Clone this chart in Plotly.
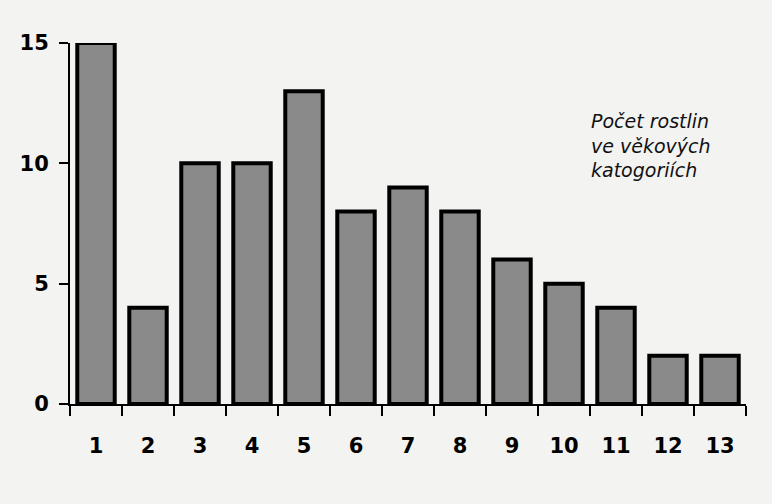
import plotly.graph_objects as go

categories = ["1", "2", "3", "4", "5", "6", "7", "8", "9", "10", "11", "12", "13"]
counts = [15, 4, 10, 10, 13, 8, 9, 8, 6, 5, 4, 2, 2]
y_ticks = [0, 5, 10, 15]
note = "Počet rostlin<br>ve věkových<br>katogoriích"

fig = go.Figure(go.Bar(
    x=categories, y=counts,
    marker=dict(color="#8a8a8a", line=dict(color="#000000", width=4)),
    width=0.72,
))

fig.update_layout(
    width=772, height=504,
    margin=dict(l=70, r=26, t=43, b=100),
    paper_bgcolor="#f3f3f1", plot_bgcolor="#f3f3f1",
    showlegend=False,
    font=dict(family="Liberation Sans, Arial", color="#000000"),
    annotations=[dict(
        text="<i>" + note + "</i>", xref="paper", yref="paper",
        x=0.768, y=0.82, xanchor="left", yanchor="top", align="left",
        showarrow=False, font=dict(size=19, family="DejaVu Sans", color="#111111"),
    )],
)
fig.update_xaxes(
    type="category", range=[-0.5, 12.5],
    showline=True, linecolor="#000000", linewidth=2,
    ticks="outside", tickson="boundaries", ticklen=10, tickwidth=2, tickcolor="#000000",
    tickfont=dict(size=21, family="DejaVu Sans", weight="bold"),
    ticklabelstandoff=22, showgrid=False, zeroline=False,
)
fig.update_yaxes(
    range=[0, 15], tickvals=y_ticks, ticktext=[str(v) for v in y_ticks],
    showline=True, linecolor="#000000", linewidth=2,
    ticks="outside", ticklen=9, tickwidth=2, tickcolor="#000000",
    tickfont=dict(size=21, family="DejaVu Sans", weight="bold"),
    ticklabelstandoff=6, showgrid=False, zeroline=False,
)

fig.write_html(
    "out.html",
    config={"displayModeBar": False},
    post_script="document.body.style.margin='0';document.body.style.background='#f3f3f1';",
)
